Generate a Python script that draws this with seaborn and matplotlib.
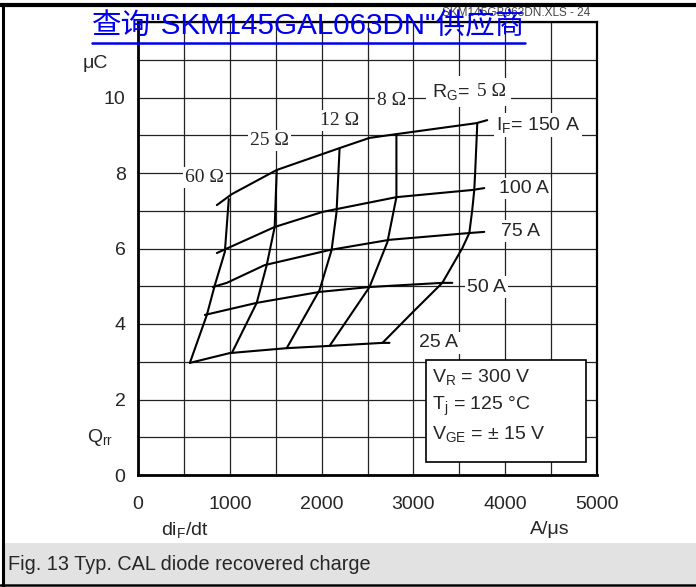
import matplotlib
matplotlib.use("Agg")
import matplotlib.pyplot as plt
import seaborn as sns
import pandas as pd
from matplotlib.patches import Rectangle
from matplotlib.lines import Line2D

# ---- data ----
# Constant forward current curves: x = diF/dt (A/us), y = Qrr (uC)
if_names = ["25 A", "50 A", "75 A", "100 A", "150 A"]
if_x = [
    [565, 1000, 1620, 2087, 2663, 2739],
    [728, 1293, 1978, 2522, 3315, 3424],
    [815, 967, 1380, 2087, 2739, 3609, 3772],
    [859, 1489, 2011, 2815, 3641, 3772],
    [859, 1022, 1511, 2196, 2522, 2815, 3685, 3804],
]
if_y = [
    [2.97, 3.23, 3.36, 3.42, 3.50, 3.50],
    [4.24, 4.56, 4.85, 4.98, 5.09, 5.09],
    [4.98, 5.09, 5.56, 5.96, 6.23, 6.41, 6.44],
    [5.88, 6.57, 6.97, 7.36, 7.55, 7.60],
    [7.15, 7.44, 8.08, 8.66, 8.93, 9.03, 9.32, 9.40],
]
# Constant gate resistance curves
rg_names = ["60", "25", "12", "8", "5"]
rg_x = [
    [565, 750, 837, 946, 989],
    [1022, 1293, 1402, 1489, 1511],
    [1620, 1978, 2109, 2163, 2196],
    [2087, 2522, 2717, 2815, 2815],
    [2663, 3000, 3315, 3533, 3609, 3641, 3663, 3674, 3696],
]
rg_y = [
    [2.97, 4.24, 5.03, 5.91, 7.31],
    [3.23, 4.56, 5.56, 6.57, 8.08],
    [3.36, 4.90, 5.96, 6.97, 8.66],
    [3.42, 4.98, 6.17, 7.36, 9.03],
    [3.50, 4.33, 5.09, 6.01, 6.41, 7.02, 7.55, 8.08, 9.32],
]
x_ticks = [0, 1000, 2000, 3000, 4000, 5000]
y_ticks = [0, 2, 4, 6, 8, 10]

rows = []
for name, xs, ys in zip(if_names, if_x, if_y):
    for i, (a, b) in enumerate(zip(xs, ys)):
        rows.append(dict(curve="IF " + name, order=i, x=a, y=b))
for name, xs, ys in zip(rg_names, rg_x, rg_y):
    for i, (a, b) in enumerate(zip(xs, ys)):
        rows.append(dict(curve="RG " + name, order=i, x=a, y=b))
df = pd.DataFrame(rows)

sns.set_style("white")
SANS = ["Liberation Sans", "DejaVu Sans", "Noto Sans CJK SC"]
SERIF = ["Liberation Serif", "DejaVu Serif"]
plt.rcParams["font.family"] = SANS
plt.rcParams["mathtext.default"] = "regular"

fig = plt.figure(figsize=(6.96, 5.87), dpi=100)
W, H = 696, 587
ax = fig.add_axes([138 / W, 112 / H, 459 / W, 453 / H])

sns.lineplot(data=df, x="x", y="y", units="curve", estimator=None, sort=False,
             color="black", linewidth=1.5, ax=ax, legend=False, zorder=3)

ax.set_xlim(0, 5000)
ax.set_ylim(0, 12)
ax.set_xticks(range(0, 5001, 500))
ax.set_xticklabels([str(v) if v in x_ticks else "" for v in range(0, 5001, 500)])
ax.set_yticks(range(0, 13))
ax.set_yticklabels([str(v) if v in y_ticks else "" for v in range(0, 13)])
ax.tick_params(axis="x", length=0, pad=15, labelsize=14)
ax.tick_params(axis="y", length=0, pad=9, labelsize=14)
ax.grid(True, color="#222222", linewidth=0.9, zorder=1)
ax.set_axisbelow(True)
ax.set_xlabel("")
ax.set_ylabel("")
for s in ax.spines.values():
    s.set_color("black")
    s.set_linewidth(1.6)
ax.spines["left"].set_linewidth(2.0)
ax.spines["bottom"].set_linewidth(2.0)

wb = dict(facecolor="white", edgecolor="none", pad=1.5)
wb2 = dict(facecolor="white", edgecolor="none", pad=4)
# RG labels (serif)
ax.text(728, 7.89, "60 Ω", family=SERIF, fontsize=14, ha="center", va="center", bbox=wb, zorder=4)
ax.text(1435, 8.87, "25 Ω", family=SERIF, fontsize=14, ha="center", va="center", bbox=wb, zorder=4)
ax.text(2196, 9.40, "12 Ω", family=SERIF, fontsize=14, ha="center", va="center", bbox=wb, zorder=4)
ax.text(2761, 9.93, "8 Ω", family=SERIF, fontsize=14, ha="center", va="center", bbox=wb, zorder=4)
ax.text(3200, 10.15, "R$_{G}$=", fontsize=14, ha="left", va="center", bbox=wb2, zorder=4)
ax.text(3690, 10.15, "5 Ω", family=SERIF, fontsize=14, ha="left", va="center", bbox=wb2, zorder=4)
# IF labels
ax.text(3902, 9.27, "I$_{F}$= 150 A", fontsize=14, ha="left", va="center", bbox=wb, zorder=4)
ax.text(3935, 7.58, "100 A", fontsize=14, ha="left", va="center", bbox=wb, zorder=4)
ax.text(3957, 6.46, "75 A", fontsize=14, ha="left", va="center", bbox=wb, zorder=4)
ax.text(3587, 4.98, "50 A", fontsize=14, ha="left", va="center", bbox=wb, zorder=4)
ax.text(3065, 3.50, "25 A", fontsize=14, ha="left", va="center", bbox=wb, zorder=4)

# conditions box
ax.add_patch(Rectangle((3141, 0.34), 4880 - 3141, 3.05 - 0.34, facecolor="white",
                       edgecolor="black", linewidth=1.2, zorder=4))
ax.text(3207, 2.60, "V$_{R}$ = 300 V", fontsize=14, ha="left", va="center", zorder=5)
ax.text(3207, 1.83, "T$_{j}$ = 125 °C", fontsize=14, ha="left", va="center", zorder=5)
ax.text(3207, 1.09, "V$_{GE}$ = ± 15 V", fontsize=14, ha="left", va="center", zorder=5)

# axis unit labels
ax.text(-470, 10.9, "μC", fontsize=14, ha="center", va="center", clip_on=False)
ax.text(-410, 1.0, "Q$_{rr}$", fontsize=14, ha="center", va="center", clip_on=False)
fig.text(185 / W, 1 - 530 / H, "di$_{F}$/dt", fontsize=14, ha="center", va="center")
fig.text(550 / W, 1 - 530 / H, "A/μs", fontsize=14, ha="center", va="center")

# caption band
fig.patches.append(Rectangle((3 / W, 1 - 584 / H), 1, 41 / H, transform=fig.transFigure,
                             facecolor="#e2e2e2", edgecolor="none", zorder=0))
fig.text(8 / W, 1 - 564 / H, "Fig. 13 Typ. CAL diode recovered charge", fontsize=14.3,
         ha="left", va="center")

# figure border
fig.add_artist(Line2D([0, 1], [1 - 5 / H, 1 - 5 / H], transform=fig.transFigure, color="black", linewidth=3))
fig.add_artist(Line2D([3 / W, 3 / W], [0, 1 - 5 / H], transform=fig.transFigure, color="black", linewidth=2.2))
fig.add_artist(Line2D([0, 1], [1 - 585 / H, 1 - 585 / H], transform=fig.transFigure, color="black", linewidth=1.8))

# header texts (the blue banner overlaps the grey file tag, as in the original)
fig.text(590 / W, 1 - 13 / H, "SKM145GB063DN.XLS - 24", fontsize=8.5, color="#444444",
         ha="right", va="center")
t = fig.text(92 / W, 1 - 25 / H, "查询\"SKM145GAL063DN\"供应商", fontsize=21.3, color="#0000ee",
             ha="left", va="center", family=["Liberation Sans", "Noto Sans CJK SC"], zorder=10)
fig.add_artist(Line2D([92 / W, 525 / W], [1 - 43 / H, 1 - 43 / H], transform=fig.transFigure,
                      color="#0000ee", linewidth=1.8, zorder=10))

fig.savefig("out.png", dpi=100)
